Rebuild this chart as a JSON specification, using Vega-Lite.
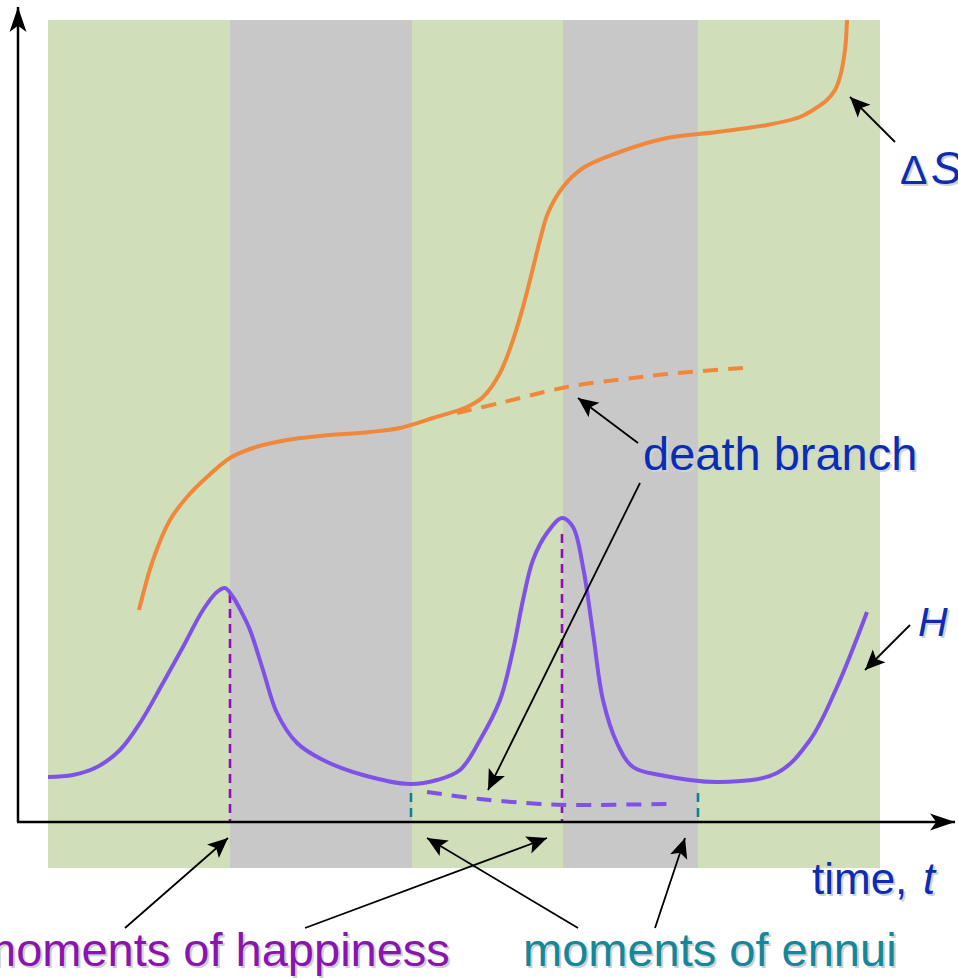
{
  "$schema": "https://vega.github.io/schema/vega-lite/v6.json",
  "width": 958,
  "height": 978,
  "autosize": {"type": "none"},
  "padding": 0,
  "background": "white",
  "config": {"view": {"stroke": null}},
  "datasets": {
    "bands": [
      {"t0": 30, "t1": 212, "phase": "lively"},
      {"t0": 212, "t1": 394, "phase": "dull"},
      {"t0": 394, "t1": 545, "phase": "lively"},
      {"t0": 545, "t1": 680, "phase": "dull"},
      {"t0": 680, "t1": 862, "phase": "lively"}
    ],
    "curves": [
      {"curve": "ΔS", "branch": "life", "t": 121, "v": 212},
      {"curve": "ΔS", "branch": "life", "t": 135, "v": 262},
      {"curve": "ΔS", "branch": "life", "t": 152, "v": 302},
      {"curve": "ΔS", "branch": "life", "t": 169, "v": 325},
      {"curve": "ΔS", "branch": "life", "t": 189, "v": 345},
      {"curve": "ΔS", "branch": "life", "t": 212, "v": 364},
      {"curve": "ΔS", "branch": "life", "t": 235, "v": 374},
      {"curve": "ΔS", "branch": "life", "t": 269, "v": 382},
      {"curve": "ΔS", "branch": "life", "t": 302, "v": 386},
      {"curve": "ΔS", "branch": "life", "t": 352, "v": 390},
      {"curve": "ΔS", "branch": "life", "t": 382, "v": 394},
      {"curve": "ΔS", "branch": "life", "t": 415, "v": 404},
      {"curve": "ΔS", "branch": "life", "t": 449, "v": 415},
      {"curve": "ΔS", "branch": "life", "t": 465, "v": 425},
      {"curve": "ΔS", "branch": "life", "t": 482, "v": 449},
      {"curve": "ΔS", "branch": "life", "t": 495, "v": 482},
      {"curve": "ΔS", "branch": "life", "t": 505, "v": 515},
      {"curve": "ΔS", "branch": "life", "t": 512, "v": 542},
      {"curve": "ΔS", "branch": "life", "t": 517, "v": 562},
      {"curve": "ΔS", "branch": "life", "t": 522, "v": 582},
      {"curve": "ΔS", "branch": "life", "t": 530, "v": 609},
      {"curve": "ΔS", "branch": "life", "t": 545, "v": 635},
      {"curve": "ΔS", "branch": "life", "t": 565, "v": 654},
      {"curve": "ΔS", "branch": "life", "t": 599, "v": 669},
      {"curve": "ΔS", "branch": "life", "t": 649, "v": 684},
      {"curve": "ΔS", "branch": "life", "t": 699, "v": 690},
      {"curve": "ΔS", "branch": "life", "t": 749, "v": 697},
      {"curve": "ΔS", "branch": "life", "t": 782, "v": 705},
      {"curve": "ΔS", "branch": "life", "t": 795, "v": 712},
      {"curve": "ΔS", "branch": "life", "t": 809, "v": 722},
      {"curve": "ΔS", "branch": "life", "t": 817, "v": 732},
      {"curve": "ΔS", "branch": "life", "t": 822, "v": 745},
      {"curve": "ΔS", "branch": "life", "t": 827, "v": 772},
      {"curve": "ΔS", "branch": "life", "t": 829, "v": 802},
      {"curve": "ΔS", "branch": "death", "t": 439, "v": 409},
      {"curve": "ΔS", "branch": "death", "t": 482, "v": 419},
      {"curve": "ΔS", "branch": "death", "t": 549, "v": 435},
      {"curve": "ΔS", "branch": "death", "t": 615, "v": 444},
      {"curve": "ΔS", "branch": "death", "t": 649, "v": 448},
      {"curve": "ΔS", "branch": "death", "t": 725, "v": 454},
      {"curve": "H", "branch": "life", "t": 30, "v": 45},
      {"curve": "H", "branch": "life", "t": 55, "v": 47},
      {"curve": "H", "branch": "life", "t": 79, "v": 55},
      {"curve": "H", "branch": "life", "t": 102, "v": 72},
      {"curve": "H", "branch": "life", "t": 122, "v": 99},
      {"curve": "H", "branch": "life", "t": 145, "v": 139},
      {"curve": "H", "branch": "life", "t": 165, "v": 175},
      {"curve": "H", "branch": "life", "t": 185, "v": 212},
      {"curve": "H", "branch": "life", "t": 199, "v": 230},
      {"curve": "H", "branch": "life", "t": 207, "v": 234},
      {"curve": "H", "branch": "life", "t": 215, "v": 225},
      {"curve": "H", "branch": "life", "t": 224, "v": 209},
      {"curve": "H", "branch": "life", "t": 232, "v": 192},
      {"curve": "H", "branch": "life", "t": 245, "v": 152},
      {"curve": "H", "branch": "life", "t": 259, "v": 109},
      {"curve": "H", "branch": "life", "t": 279, "v": 79},
      {"curve": "H", "branch": "life", "t": 305, "v": 62},
      {"curve": "H", "branch": "life", "t": 345, "v": 47},
      {"curve": "H", "branch": "life", "t": 392, "v": 38},
      {"curve": "H", "branch": "life", "t": 419, "v": 42},
      {"curve": "H", "branch": "life", "t": 442, "v": 52},
      {"curve": "H", "branch": "life", "t": 462, "v": 82},
      {"curve": "H", "branch": "life", "t": 482, "v": 122},
      {"curve": "H", "branch": "life", "t": 495, "v": 172},
      {"curve": "H", "branch": "life", "t": 505, "v": 222},
      {"curve": "H", "branch": "life", "t": 515, "v": 262},
      {"curve": "H", "branch": "life", "t": 529, "v": 289},
      {"curve": "H", "branch": "life", "t": 544, "v": 304},
      {"curve": "H", "branch": "life", "t": 555, "v": 295},
      {"curve": "H", "branch": "life", "t": 565, "v": 255},
      {"curve": "H", "branch": "life", "t": 575, "v": 189},
      {"curve": "H", "branch": "life", "t": 585, "v": 122},
      {"curve": "H", "branch": "life", "t": 599, "v": 79},
      {"curve": "H", "branch": "life", "t": 615, "v": 55},
      {"curve": "H", "branch": "life", "t": 642, "v": 47},
      {"curve": "H", "branch": "life", "t": 702, "v": 40},
      {"curve": "H", "branch": "life", "t": 759, "v": 49},
      {"curve": "H", "branch": "life", "t": 792, "v": 82},
      {"curve": "H", "branch": "life", "t": 819, "v": 135},
      {"curve": "H", "branch": "life", "t": 849, "v": 210},
      {"curve": "H", "branch": "death", "t": 409, "v": 30},
      {"curve": "H", "branch": "death", "t": 462, "v": 23},
      {"curve": "H", "branch": "death", "t": 522, "v": 18},
      {"curve": "H", "branch": "death", "t": 549, "v": 17},
      {"curve": "H", "branch": "death", "t": 649, "v": 18}
    ],
    "moments": [
      {"kind": "happiness", "t": 212, "v": 228},
      {"kind": "happiness", "t": 544, "v": 288},
      {"kind": "ennui", "t": 393, "v": 29},
      {"kind": "ennui", "t": 680, "v": 29}
    ],
    "axes": [
      {"axis": "value", "t1": 0, "v1": 0, "t2": 0, "v2": 815},
      {"axis": "time", "t1": -1, "v1": 0, "t2": 937, "v2": 0}
    ],
    "pointers": [
      {"target": "ΔS", "t1": 877, "v1": 680, "t2": 832, "v2": 725},
      {"target": "H", "t1": 892, "v1": 197, "t2": 847, "v2": 152},
      {"target": "death ΔS", "t1": 620, "v1": 379, "t2": 560, "v2": 424},
      {"target": "death H", "t1": 622, "v1": 339, "t2": 470, "v2": 32},
      {"target": "happiness 1", "t1": 107, "v1": -106, "t2": 210, "v2": -16},
      {"target": "happiness 2", "t1": 287, "v1": -106, "t2": 529, "v2": -16},
      {"target": "ennui 1", "t1": 560, "v1": -106, "t2": 409, "v2": -16},
      {"target": "ennui 2", "t1": 637, "v1": -106, "t2": 667, "v2": -16}
    ],
    "labels": [
      {"text": "death branch", "style": "plain", "t": 625, "v": 352},
      {"text": "time,", "style": "plain", "t": 794, "v": -72},
      {"text": "Δ", "style": "plain", "t": 882, "v": 638},
      {"text": "S", "style": "italic", "t": 913, "v": 638},
      {"text": "t", "style": "italic", "t": 905, "v": -72},
      {"text": "H", "style": "italic", "t": 900, "v": 186}
    ],
    "captions": [
      {"text": "moments of happiness", "kind": "happiness", "t": -41, "v": -144},
      {"text": "moments of ennui", "kind": "ennui", "t": 505, "v": -144}
    ]
  },
  "resolve": {"scale": {"color": "independent", "size": "independent"}},
  "layer": [
    {
      "data": {"name": "bands"},
      "mark": {"type": "rect"},
      "encoding": {
        "x": {"field": "t0", "type": "quantitative", "scale": {"domain": [-18, 940], "nice": false, "zero": false}, "axis": null},
        "x2": {"field": "t1"},
        "y": {"datum": 802, "type": "quantitative", "scale": {"domain": [-156, 822], "nice": false, "zero": false}, "axis": null},
        "y2": {"datum": -46},
        "color": {"field": "phase", "type": "nominal", "scale": {"domain": ["lively", "dull"], "range": ["#D0DEBA", "#C8C8C8"]}, "legend": null}
      }
    },
    {
      "data": {"name": "moments"},
      "mark": {"type": "rule", "strokeWidth": 2.6, "strokeDash": [9, 6]},
      "encoding": {
        "x": {"field": "t", "type": "quantitative", "scale": {"domain": [-18, 940], "nice": false, "zero": false}, "axis": null},
        "y": {"field": "v", "type": "quantitative", "scale": {"domain": [-156, 822], "nice": false, "zero": false}, "axis": null},
        "y2": {"datum": 0},
        "color": {"field": "kind", "type": "nominal", "scale": {"domain": ["happiness", "ennui"], "range": ["#8E10B2", "#147F8E"]}, "legend": null}
      }
    },
    {
      "data": {"name": "curves"},
      "transform": [{"filter": "datum.branch === 'death'"}],
      "mark": {"type": "line", "interpolate": "catmull-rom", "strokeWidth": 4, "strokeDash": [15, 10]},
      "encoding": {
        "x": {"field": "t", "type": "quantitative", "scale": {"domain": [-18, 940], "nice": false, "zero": false}, "axis": null},
        "y": {"field": "v", "type": "quantitative", "scale": {"domain": [-156, 822], "nice": false, "zero": false}, "axis": null},
        "color": {"field": "curve", "type": "nominal", "scale": {"domain": ["ΔS", "H"], "range": ["#F0883C", "#7E52E6"]}, "legend": null}
      }
    },
    {
      "data": {"name": "curves"},
      "transform": [{"filter": "datum.branch === 'life'"}],
      "mark": {"type": "line", "interpolate": "catmull-rom", "strokeWidth": 4},
      "encoding": {
        "x": {"field": "t", "type": "quantitative", "scale": {"domain": [-18, 940], "nice": false, "zero": false}, "axis": null},
        "y": {"field": "v", "type": "quantitative", "scale": {"domain": [-156, 822], "nice": false, "zero": false}, "axis": null},
        "color": {"field": "curve", "type": "nominal", "scale": {"domain": ["ΔS", "H"], "range": ["#F0883C", "#7E52E6"]}, "legend": null}
      }
    },
    {
      "data": {"name": "axes"},
      "mark": {"type": "rule", "strokeWidth": 2.5, "color": "black"},
      "encoding": {
        "x": {"field": "t1", "type": "quantitative", "scale": {"domain": [-18, 940], "nice": false, "zero": false}, "axis": null},
        "y": {"field": "v1", "type": "quantitative", "scale": {"domain": [-156, 822], "nice": false, "zero": false}, "axis": null},
        "x2": {"field": "t2"},
        "y2": {"field": "v2"}
      }
    },
    {
      "data": {"name": "axes"},
      "transform": [{"calculate": "atan2(datum.t2 - datum.t1, datum.v2 - datum.v1) * 180 / PI", "as": "angle"}],
      "mark": {"type": "point", "filled": true, "opacity": 1, "color": "black", "strokeWidth": 0, "size": 2500, "shape": "M0,0L0.34,1L0,0.75L-0.34,1Z"},
      "encoding": {
        "x": {"field": "t2", "type": "quantitative", "scale": {"domain": [-18, 940], "nice": false, "zero": false}, "axis": null},
        "y": {"field": "v2", "type": "quantitative", "scale": {"domain": [-156, 822], "nice": false, "zero": false}, "axis": null},
        "angle": {"field": "angle", "type": "quantitative", "scale": null}
      }
    },
    {
      "data": {"name": "pointers"},
      "mark": {"type": "rule", "strokeWidth": 1.8, "color": "black"},
      "encoding": {
        "x": {"field": "t1", "type": "quantitative", "scale": {"domain": [-18, 940], "nice": false, "zero": false}, "axis": null},
        "y": {"field": "v1", "type": "quantitative", "scale": {"domain": [-156, 822], "nice": false, "zero": false}, "axis": null},
        "x2": {"field": "t2"},
        "y2": {"field": "v2"}
      }
    },
    {
      "data": {"name": "pointers"},
      "transform": [{"calculate": "atan2(datum.t2 - datum.t1, datum.v2 - datum.v1) * 180 / PI", "as": "angle"}],
      "mark": {"type": "point", "filled": true, "opacity": 1, "color": "black", "strokeWidth": 0, "size": 1600, "shape": "M0,0L0.45,1L0,0.78L-0.45,1Z"},
      "encoding": {
        "x": {"field": "t2", "type": "quantitative", "scale": {"domain": [-18, 940], "nice": false, "zero": false}, "axis": null},
        "y": {"field": "v2", "type": "quantitative", "scale": {"domain": [-156, 822], "nice": false, "zero": false}, "axis": null},
        "angle": {"field": "angle", "type": "quantitative", "scale": null}
      }
    },
    {
      "data": {"name": "labels"},
      "transform": [{"filter": "datum.style === 'plain'"}],
      "mark": {"type": "text", "align": "left", "baseline": "alphabetic", "font": "Liberation Sans", "color": "#D2D2D2", "dx": 2, "dy": 2},
      "encoding": {
        "x": {"field": "t", "type": "quantitative", "scale": {"domain": [-18, 940], "nice": false, "zero": false}, "axis": null},
        "y": {"field": "v", "type": "quantitative", "scale": {"domain": [-156, 822], "nice": false, "zero": false}, "axis": null},
        "text": {"field": "text"},
        "size": {"field": "text", "type": "nominal", "scale": {"domain": ["death branch", "time,", "Δ"], "range": [47, 41, 45]}, "legend": null}
      }
    },
    {
      "data": {"name": "labels"},
      "transform": [{"filter": "datum.style === 'plain'"}],
      "mark": {"type": "text", "align": "left", "baseline": "alphabetic", "font": "Liberation Sans", "color": "#0B2DB3"},
      "encoding": {
        "x": {"field": "t", "type": "quantitative", "scale": {"domain": [-18, 940], "nice": false, "zero": false}, "axis": null},
        "y": {"field": "v", "type": "quantitative", "scale": {"domain": [-156, 822], "nice": false, "zero": false}, "axis": null},
        "text": {"field": "text"},
        "size": {"field": "text", "type": "nominal", "scale": {"domain": ["death branch", "time,", "Δ"], "range": [47, 41, 45]}, "legend": null}
      }
    },
    {
      "data": {"name": "labels"},
      "transform": [{"filter": "datum.style === 'italic'"}],
      "mark": {"type": "text", "align": "left", "baseline": "alphabetic", "font": "Liberation Sans", "fontStyle": "italic", "color": "#D2D2D2", "dx": 2, "dy": 2},
      "encoding": {
        "x": {"field": "t", "type": "quantitative", "scale": {"domain": [-18, 940], "nice": false, "zero": false}, "axis": null},
        "y": {"field": "v", "type": "quantitative", "scale": {"domain": [-156, 822], "nice": false, "zero": false}, "axis": null},
        "text": {"field": "text"},
        "size": {"field": "text", "type": "nominal", "scale": {"domain": ["S", "t", "H"], "range": [46, 41, 46]}, "legend": null}
      }
    },
    {
      "data": {"name": "labels"},
      "transform": [{"filter": "datum.style === 'italic'"}],
      "mark": {"type": "text", "align": "left", "baseline": "alphabetic", "font": "Liberation Sans", "fontStyle": "italic", "color": "#0B2DB3"},
      "encoding": {
        "x": {"field": "t", "type": "quantitative", "scale": {"domain": [-18, 940], "nice": false, "zero": false}, "axis": null},
        "y": {"field": "v", "type": "quantitative", "scale": {"domain": [-156, 822], "nice": false, "zero": false}, "axis": null},
        "text": {"field": "text"},
        "size": {"field": "text", "type": "nominal", "scale": {"domain": ["S", "t", "H"], "range": [46, 41, 46]}, "legend": null}
      }
    },
    {
      "data": {"name": "captions"},
      "mark": {"type": "text", "align": "left", "baseline": "alphabetic", "font": "Liberation Sans", "fontSize": 47, "color": "#CFCFCF", "dx": 2, "dy": 2},
      "encoding": {
        "x": {"field": "t", "type": "quantitative", "scale": {"domain": [-18, 940], "nice": false, "zero": false}, "axis": null},
        "y": {"field": "v", "type": "quantitative", "scale": {"domain": [-156, 822], "nice": false, "zero": false}, "axis": null},
        "text": {"field": "text"}
      }
    },
    {
      "data": {"name": "captions"},
      "mark": {"type": "text", "align": "left", "baseline": "alphabetic", "font": "Liberation Sans", "fontSize": 47},
      "encoding": {
        "x": {"field": "t", "type": "quantitative", "scale": {"domain": [-18, 940], "nice": false, "zero": false}, "axis": null},
        "y": {"field": "v", "type": "quantitative", "scale": {"domain": [-156, 822], "nice": false, "zero": false}, "axis": null},
        "text": {"field": "text"},
        "color": {"field": "kind", "type": "nominal", "scale": {"domain": ["happiness", "ennui"], "range": ["#8A14AE", "#14879A"]}, "legend": null}
      }
    }
  ]
}
